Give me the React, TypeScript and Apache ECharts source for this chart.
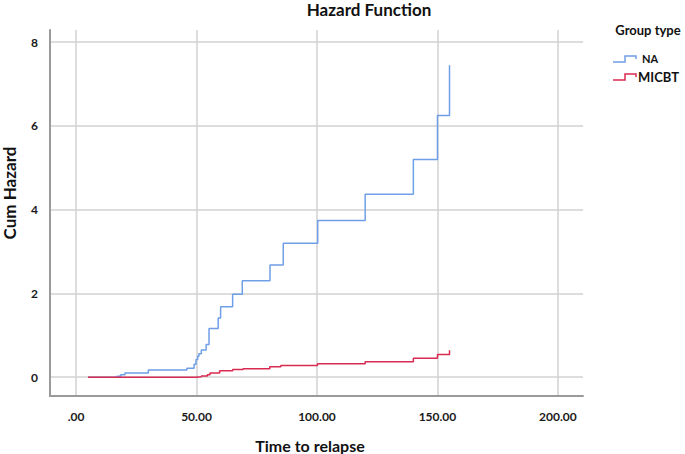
import React, { useEffect, useRef } from "react";
import * as echarts from "echarts";

const xTicks = [0, 50, 100, 150, 200];
const yTicks = [0, 2, 4, 6, 8];

const seriesNames = ["NA", "MICBT"];
const seriesColors = ["#6f9fe6", "#d92a50"];

const naTimes = [5, 17, 18.5, 20.3, 30, 46, 49, 49.8, 50.5, 51, 52, 54, 55.2, 59, 60, 65, 69, 80.5, 86, 100.3, 120, 140, 150, 155];
const naHazard = [0, 0.02, 0.06, 0.1, 0.17, 0.21, 0.31, 0.42, 0.5, 0.56, 0.65, 0.78, 1.16, 1.41, 1.68, 1.98, 2.3, 2.68, 3.2, 3.74, 4.37, 5.2, 6.25, 7.45];

const micbtTimes = [5, 49.5, 52, 54.5, 55.6, 59.6, 65, 69.3, 80.4, 85, 100.2, 120, 140, 150, 155];
const micbtHazard = [0, 0.01, 0.03, 0.06, 0.1, 0.15, 0.18, 0.2, 0.25, 0.28, 0.32, 0.37, 0.45, 0.54, 0.64];

const FONT = "Lato, 'Open Sans', sans-serif";

export default function App() {
  const ref = useRef<HTMLDivElement>(null);
  useEffect(() => {
    if (!ref.current) return;
    const chart = echarts.init(ref.current, null, { renderer: "svg" });
    const toPairs = (t: number[], h: number[]) => t.map((v, i) => [v, h[i]]);
    const legendIcon = (y: number, color: string) => ({
      type: "polyline",
      shape: { points: [[613, y + 6], [625, y + 6], [625, y], [636, y], [636, y + 3]] },
      style: { stroke: color, lineWidth: 1.5, fill: "none" },
    });
    chart.setOption({
      animation: false,
      backgroundColor: "#ffffff",
      grid: { left: 50, right: 102, top: 30, bottom: 58 },
      xAxis: {
        type: "value",
        min: -10.8,
        max: 210.4,
        axisLine: { show: true, onZero: false, lineStyle: { color: "#9a9a9a", width: 2 } },
        axisTick: { show: false, customValues: xTicks },
        axisLabel: {
          customValues: xTicks,
          formatter: (v: number) => (v === 0 ? ".00" : v.toFixed(2)),
          color: "#1a1a1a",
          fontWeight: "bold",
          fontSize: 12,
          fontFamily: FONT,
          margin: 14,
        },
        splitLine: { show: true, lineStyle: { color: "#d2d2d2", width: 1.5 } },
      },
      yAxis: {
        type: "value",
        min: -0.45,
        max: 8.29,
        axisLine: { show: true, onZero: false, lineStyle: { color: "#9a9a9a", width: 2 } },
        axisTick: { show: false, customValues: yTicks },
        axisLabel: {
          customValues: yTicks,
          color: "#1a1a1a",
          fontWeight: "bold",
          fontSize: 12,
          fontFamily: FONT,
          margin: 12,
        },
        splitLine: { show: true, lineStyle: { color: "#d2d2d2", width: 1.5 } },
      },
      series: [
        {
          name: seriesNames[0],
          type: "line",
          step: "end",
          showSymbol: false,
          data: toPairs(naTimes, naHazard),
          lineStyle: { color: seriesColors[0], width: 1.5 },
          itemStyle: { color: seriesColors[0] },
          z: 3,
        },
        {
          name: seriesNames[1],
          type: "line",
          step: "end",
          showSymbol: false,
          data: toPairs(micbtTimes, micbtHazard),
          lineStyle: { color: seriesColors[1], width: 1.5 },
          itemStyle: { color: seriesColors[1] },
          z: 4,
        },
      ],
      graphic: [
        {
          type: "text",
          x: 369,
          y: 9,
          style: { text: "Hazard Function", fontSize: 17, fontWeight: "bold", fontFamily: FONT, fill: "#111", align: "center", verticalAlign: "middle" },
        },
        {
          type: "text",
          x: 310,
          y: 445,
          style: { text: "Time to relapse", fontSize: 16, fontWeight: "bold", fontFamily: FONT, fill: "#111", align: "center", verticalAlign: "middle" },
        },
        {
          type: "text",
          x: 9,
          y: 193,
          rotation: Math.PI / 2,
          style: { text: "Cum Hazard", fontSize: 17, fontWeight: "bold", fontFamily: FONT, fill: "#111", align: "center", verticalAlign: "middle" },
        },
        {
          type: "text",
          x: 648,
          y: 30,
          style: { text: "Group type", fontSize: 13, fontWeight: "bold", fontFamily: FONT, fill: "#111", align: "center", verticalAlign: "middle" },
        },
        legendIcon(56, seriesColors[0]),
        {
          type: "text",
          x: 642,
          y: 58,
          style: { text: seriesNames[0], fontSize: 11, fontWeight: "bold", fontFamily: FONT, fill: "#111", align: "left", verticalAlign: "middle" },
        },
        legendIcon(74, seriesColors[1]),
        {
          type: "text",
          x: 638,
          y: 77,
          style: { text: seriesNames[1], fontSize: 13, fontWeight: "bold", fontFamily: FONT, fill: "#111", align: "left", verticalAlign: "middle" },
        },
      ],
    });
    return () => chart.dispose();
  }, []);
  return <div ref={ref} style={{ position: "fixed", left: 0, top: 0, width: 685, height: 454 }} />;
}
